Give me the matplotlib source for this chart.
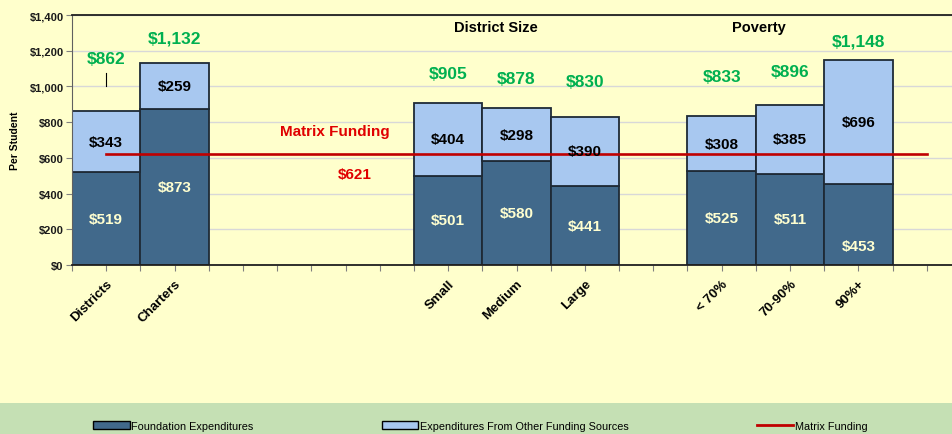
import matplotlib
matplotlib.use("Agg")
import matplotlib.pyplot as plt
from matplotlib.patches import Patch, Rectangle
from matplotlib.lines import Line2D
import numpy as np

# ---------------- data ----------------
categories = ["Districts", "Charters", "", "", "", "Small", "Medium", "Large",
              "", "< 70%", "70-90%", "90%+", ""]
foundation = [519, 873, None, None, None, 501, 580, 441, None, 525, 511, 453, None]
other      = [343, 259, None, None, None, 404, 298, 390, None, 308, 385, 696, None]
total_labels = ["$862", "$1,132", "", "", "", "$905", "$878", "$830", "", "$833", "$896", "$1,148", ""]
matrix_funding = 621
yticks = [0, 200, 400, 600, 800, 1000, 1200, 1400]
ytick_labels = ["$0", "$200", "$400", "$600", "$800", "$1,000", "$1,200", "$1,400"]

# layout: vertical placement of the green total labels (value units)
total_label_y = [1154, 1271, None, None, None, 1075, 1042, 1025, None, 1053, 1086, 1254, None]

BG = "#FFFFCC"
FOUND = "#41698B"
OTHER = "#A8C8F0"
EDGE = "#1E2A36"
RED = "#C00000"
GREEN = "#00B050"

plt.rcParams['font.family'] = ['Liberation Sans', 'DejaVu Sans']

fig = plt.figure(figsize=(9.53, 4.35), dpi=100, facecolor=BG)
fig.patches.append(Rectangle((0, 0), 1, (435 - 404) / 435, transform=fig.transFigure,
                             facecolor="#C5E0B4", edgecolor="none", zorder=0))

ax = fig.add_axes([72 / 953, 1 - 266 / 435, (961 - 72) / 953, 250 / 435])
ax.set_facecolor(BG)

x = np.arange(len(categories))
idx = [i for i, v in enumerate(foundation) if v is not None]
f = np.array([foundation[i] for i in idx])
o = np.array([other[i] for i in idx])
xi = x[idx]

ax.bar(xi, f, width=1.0, color=FOUND, edgecolor=EDGE, linewidth=1.3, zorder=2)
ax.bar(xi, o, bottom=f, width=1.0, color=OTHER, edgecolor=EDGE, linewidth=1.3, zorder=2)

# matrix funding line
ax.plot([x[0], x[-1]], [matrix_funding, matrix_funding], color=RED, lw=1.9, zorder=4)

# segment labels
for k, i in enumerate(idx):
    fy = f[k] / 2
    if categories[i] == "90%+":
        fy = f[k] / 2 - 120
    ax.text(i, fy, f"${f[k]}", ha="center", va="center", color="#FFFFD0",
            fontsize=11, fontweight="bold", zorder=5)
    ax.text(i, f[k] + o[k] / 2, f"${o[k]}", ha="center", va="center", color="black",
            fontsize=11, fontweight="bold", zorder=5)
    ax.text(i, total_label_y[i], total_labels[i], ha="center", va="center", color=GREEN,
            fontsize=12.5, fontweight="bold", zorder=5)

# small leader under Districts total
ax.plot([0, 0], [total_label_y[0] - 150, total_label_y[0] - 80], color="black", lw=0.8, zorder=5)

ax.text(3.35, 750, "Matrix Funding", color="#E00000", fontsize=11, fontweight="bold",
        ha="center", va="center")
ax.text(3.64, 510, f"${matrix_funding}", color="#E00000", fontsize=11, fontweight="bold",
        ha="center", va="center")
ax.text(5.7, 1333, "District Size", color="black", fontsize=10.5, fontweight="bold",
        ha="center", va="center")
ax.text(9.55, 1333, "Poverty", color="black", fontsize=10.5, fontweight="bold",
        ha="center", va="center")

ax.set_xlim(-0.5, len(categories) - 0.5)
ax.set_ylim(0, 1400)
ax.set_yticks(yticks)
ax.set_yticklabels(ytick_labels, fontsize=8, fontweight="bold", color="#1a1a1a")
ax.yaxis.grid(True, color="#D8D8D8", lw=1.0, zorder=0)
ax.set_axisbelow(True)

ax.set_xticks(np.arange(-0.5, len(categories), 1.0))
ax.set_xticklabels([])
ax.set_xticks(x, minor=True)
ax.set_xticklabels(categories, minor=True, rotation=45, ha="right", va="top",
                   rotation_mode="anchor", fontsize=9.5, fontweight="bold")
ax.tick_params(axis="x", which="both", length=4, color="#808080", width=0.8, pad=5)
ax.tick_params(axis="y", length=4, color="#808080", width=0.8, pad=2)

for s in ["top", "bottom"]:
    ax.spines[s].set_color("#202020")
    ax.spines[s].set_linewidth(1.3)
ax.spines["left"].set_color("#606060")
ax.spines["right"].set_visible(False)

fig.text(15 / 953, 1 - 141 / 435, "Per Student", rotation=90, ha="center", va="center",
         fontsize=7.5, fontweight="bold")

handles = [Patch(facecolor=FOUND, edgecolor="black", lw=1.0),
           Patch(facecolor=OTHER, edgecolor="black", lw=1.0),
           Line2D([], [], color=RED, lw=2)]
labels = ["Foundation Expenditures", "Expenditures From Other Funding Sources", "Matrix Funding"]
fig.legend(handles, labels, loc="center left", bbox_to_anchor=(93 / 953, 1 - 427 / 435),
           ncol=3, frameon=False, handlelength=3.4, handleheight=0.8,
           handletextpad=0.15, columnspacing=11.8, borderpad=0, borderaxespad=0,
           prop={"family": ["Liberation Sans"], "size": 7.8})

fig.savefig("out.png", dpi=100, facecolor=BG)
